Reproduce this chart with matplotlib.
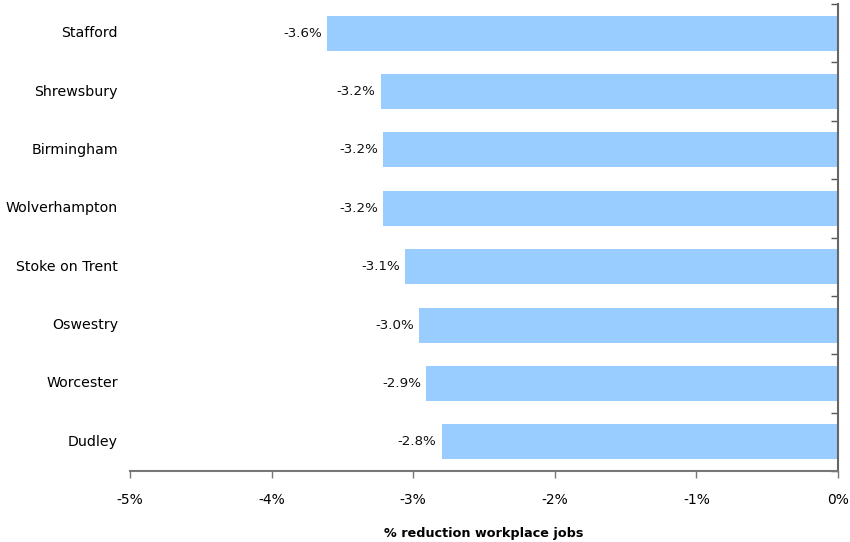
import matplotlib
matplotlib.use("Agg")
import matplotlib.pyplot as plt
from matplotlib.ticker import FuncFormatter, FixedLocator

towns = ["Stafford", "Shrewsbury", "Birmingham", "Wolverhampton",
         "Stoke on Trent", "Oswestry", "Worcester", "Dudley"]
change_pct = [-3.61, -3.23, -3.21, -3.21, -3.06, -2.96, -2.91, -2.80]
x_ticks = [-5, -4, -3, -2, -1, 0]

plt.rcParams["font.family"] = ["DejaVu Sans"]

fig = plt.figure(figsize=(8.5, 5.42), dpi=100)
ax = fig.add_axes([130 / 850, 1 - 471 / 542, (838 - 130) / 850, (471 - 4) / 542])

n = len(towns)
ypos = list(range(n))
ax.barh(ypos, change_pct, height=0.6, color="#99CCFF", zorder=2)
for y, v in zip(ypos, change_pct):
    ax.text(v - 0.035, y, f"{v:.1f}%", ha="right", va="center",
            fontsize=9.6, color="#111111")

ax.set_xlim(-5, 0)
ax.set_ylim(n - 0.5, -0.5)

ax.xaxis.set_major_locator(FixedLocator(x_ticks))
ax.xaxis.set_major_formatter(FuncFormatter(lambda v, p: f"{v:.0f}%"))
ax.tick_params(axis="x", direction="out", length=5, width=1, color="#777777",
               labelsize=10, pad=11)

# category labels on the left, boundary ticks on the right-hand spine
ax.set_yticks([])
for y, name in zip(ypos, towns):
    ax.text(-5.085, y, name, ha="right", va="center", fontsize=10.2,
            transform=ax.transData)
ax.yaxis.set_ticks_position("right")
ax.set_yticks([i - 0.5 for i in range(n + 1)], minor=True)
ax.tick_params(axis="y", which="minor", direction="in", length=5, width=1,
               color="#555555")

for side in ["top", "left"]:
    ax.spines[side].set_visible(False)
ax.spines["bottom"].set_color("#777777")
ax.spines["bottom"].set_linewidth(1.5)
ax.spines["right"].set_color("#666666")
ax.spines["right"].set_linewidth(1.5)

ax.set_xlabel("% reduction workplace jobs", fontsize=9.2, fontweight="bold",
              labelpad=14)

fig.savefig("out.png", dpi=100)
